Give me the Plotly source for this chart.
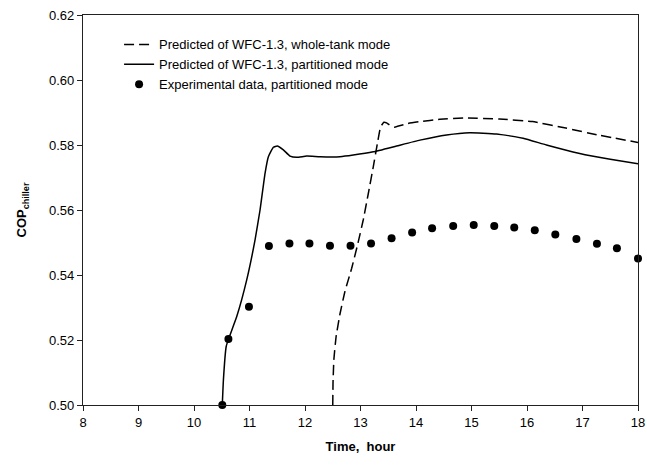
import plotly.graph_objects as go

# Experimental data, partitioned mode
exp_time = [10.51, 10.62, 10.99, 11.35, 11.72, 12.08, 12.45, 12.82, 13.19, 13.56, 13.93,
            14.29, 14.67, 15.04, 15.41, 15.77, 16.14, 16.51, 16.89, 17.26, 17.62, 18.0]
exp_cop = [0.500, 0.5203, 0.5302, 0.5489, 0.5497, 0.5497, 0.5490, 0.5490, 0.5497, 0.5513, 0.5531,
           0.5544, 0.5551, 0.5554, 0.5551, 0.5546, 0.5538, 0.5525, 0.5511, 0.5496, 0.5482, 0.5451]

# Predicted of WFC-1.3, partitioned mode
part_time = [10.51, 10.53, 10.58, 10.62, 10.77, 10.95, 11.10, 11.19, 11.28, 11.34, 11.43, 11.50,
             11.61, 11.73, 11.85, 12.03, 12.27, 12.63, 12.87, 13.23, 13.65, 14.07, 14.55, 14.97,
             15.45, 15.93, 16.35, 16.95, 17.5, 18.0]
part_cop = [0.500, 0.5077, 0.518, 0.5202, 0.5272, 0.5385, 0.5508, 0.560, 0.5713, 0.5764, 0.5793, 0.5797,
            0.5785, 0.5766, 0.5762, 0.5766, 0.5764, 0.5764, 0.5769, 0.5779, 0.5797, 0.5815, 0.5831, 0.5838,
            0.5834, 0.5821, 0.5800, 0.5774, 0.5756, 0.5742]

# Predicted of WFC-1.3, whole-tank mode
whole_time = [12.50, 12.505, 12.52, 12.56, 12.63, 12.72, 12.84, 12.95, 13.05, 13.14, 13.23, 13.31,
              13.36, 13.42, 13.47, 13.55, 13.62, 13.72, 13.85, 14.07, 14.43, 14.90, 15.50, 16.10,
              16.70, 17.30, 18.0]
whole_cop = [0.500, 0.507, 0.514, 0.521, 0.528, 0.535, 0.542, 0.5495, 0.557, 0.565, 0.5733, 0.581,
             0.5855, 0.5870, 0.5868, 0.5858, 0.5855, 0.5860, 0.5866, 0.5872, 0.5879, 0.5883, 0.5880,
             0.5872, 0.5852, 0.5830, 0.5808]

x_ticks = [8, 9, 10, 11, 12, 13, 14, 15, 16, 17, 18]
y_ticks = [0.50, 0.52, 0.54, 0.56, 0.58, 0.60, 0.62]

FONT = "Arial, Liberation Sans, sans-serif"

fig = go.Figure()
fig.add_trace(go.Scatter(
    x=whole_time, y=whole_cop, mode="lines",
    name="Predicted of WFC-1.3, whole-tank mode",
    line=dict(color="black", width=1.5, dash="10px,5px", shape="spline", smoothing=0.3),
))
fig.add_trace(go.Scatter(
    x=part_time, y=part_cop, mode="lines",
    name="Predicted of WFC-1.3, partitioned mode",
    line=dict(color="black", width=1.5, shape="spline", smoothing=0.4),
))
fig.add_trace(go.Scatter(
    x=exp_time, y=exp_cop, mode="markers",
    name="Experimental data, partitioned mode",
    marker=dict(color="black", size=8),
    cliponaxis=False,
))

fig.update_layout(
    width=647, height=468,
    margin=dict(l=83, r=9, t=15, b=63, autoexpand=False),
    paper_bgcolor="white", plot_bgcolor="white",
    font=dict(family=FONT, size=13, color="black"),
    showlegend=True,
    legend=dict(x=0.065, y=0.963, xanchor="left", yanchor="top",
                bgcolor="rgba(0,0,0,0)", font=dict(size=13), itemwidth=30,
                tracegroupgap=0),
    xaxis=dict(
        range=[8, 18], tickvals=x_ticks, ticks="outside", ticklen=5, tickcolor="#222",
        showgrid=False, zeroline=False, showline=True, linecolor="#222", linewidth=1.2,
        mirror=True, automargin=False,
        title=dict(text="<b>Time,\u00a0 hour</b>", font=dict(size=13), standoff=13),
    ),
    yaxis=dict(
        range=[0.50, 0.62], tickvals=y_ticks, tickformat=".2f", ticks="outside", ticklen=5,
        tickcolor="#222",
        showgrid=False, zeroline=False, showline=True, linecolor="#222", linewidth=1.2,
        mirror=True, automargin=False,
        title=dict(text="<b>COP<sub>chiller</sub></b>", font=dict(size=13), standoff=19),
    ),
)

fig.write_html("out.html", config={"displayModeBar": False},
               post_script="document.body.style.margin='0';")
